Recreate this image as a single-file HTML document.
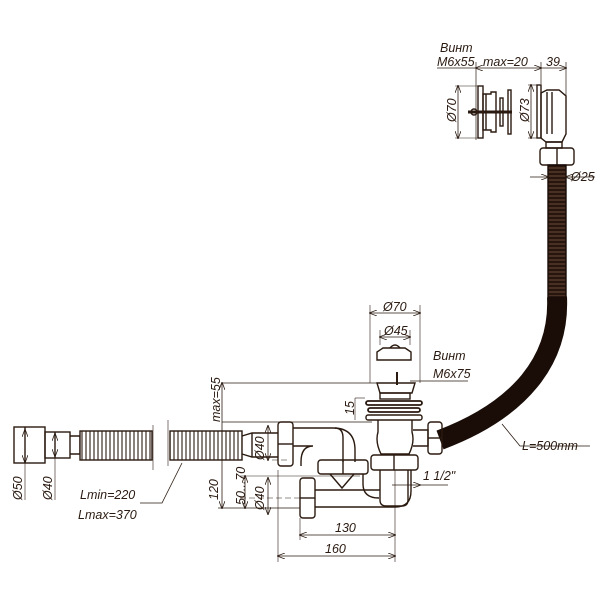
<!DOCTYPE html>
<html><head><meta charset="utf-8"><style>
html,body{margin:0;padding:0;background:#fff;}
svg{display:block;}
text{font-family:"Liberation Sans",sans-serif;font-style:italic;fill:#2a1a10;font-size:12.5px;}
</style></head><body>
<svg width="600" height="600" viewBox="0 0 600 600" xmlns="http://www.w3.org/2000/svg">
<defs>
<marker id="a" markerWidth="8" markerHeight="6" refX="7" refY="3" orient="auto-start-reverse" markerUnits="userSpaceOnUse"><path d="M0,0 L8,3 L0,6" fill="none" stroke="#2a1a10" stroke-width="0.8"/></marker>
<pattern id="cv" width="4" height="10" patternUnits="userSpaceOnUse"><rect width="4" height="10" fill="#fff"/><line x1="2" y1="0" x2="2" y2="10" stroke="#2a1a10" stroke-width="1.1"/></pattern>
<pattern id="ch" width="10" height="4" patternUnits="userSpaceOnUse"><rect width="10" height="4" fill="#4a3022"/><line x1="0" y1="2" x2="10" y2="2" stroke="#1a0d08" stroke-width="1.5"/></pattern>
</defs>
<g stroke="#2a1a10" fill="none" stroke-width="1.4">
<line x1="437" y1="68" x2="476" y2="68" stroke-width="0.8"/>
<line x1="476" y1="68" x2="541" y2="68" stroke-width="0.8" marker-start="url(#a)" marker-end="url(#a)"/>
<line x1="541" y1="68" x2="566" y2="68" stroke-width="0.8" marker-end="url(#a)"/>
<line x1="476" y1="62" x2="476" y2="140" stroke-width="0.7"/>
<line x1="541" y1="62" x2="541" y2="84" stroke-width="0.7"/>
<line x1="566" y1="62" x2="566" y2="96" stroke-width="0.7"/>
<line x1="458" y1="86" x2="458" y2="138" stroke-width="0.8" marker-start="url(#a)" marker-end="url(#a)"/>
<line x1="455" y1="86" x2="480" y2="86" stroke-width="0.6"/>
<line x1="455" y1="138" x2="480" y2="138" stroke-width="0.6"/>
<rect x="478" y="86" width="5" height="52"/>
<path d="M483,94 h8 v-2 h5 v40 h-5 v-2 h-8 z"/>
<line x1="486" y1="94" x2="486" y2="130"/>
<line x1="468" y1="112" x2="512" y2="112" stroke-width="3"/>
<circle cx="474" cy="112" r="3"/>
<rect x="500" y="98" width="3" height="28"/>
<rect x="508" y="90" width="3" height="44"/>
<line x1="531" y1="85" x2="531" y2="138" stroke-width="0.8" marker-start="url(#a)" marker-end="url(#a)"/>
<line x1="528" y1="85" x2="540" y2="85" stroke-width="0.6"/>
<line x1="528" y1="138" x2="540" y2="138" stroke-width="0.6"/>
<rect x="537" y="85" width="4" height="53"/>
<path d="M541,93 l6,-3 h12 l7,6 v38 l-4,8 h-16 l-5,-4 z"/>
<line x1="547" y1="92" x2="547" y2="134"/>
<line x1="552" y1="92" x2="552" y2="134"/>
<path d="M546,142 h16 v6 h-16 z"/>
<rect x="540" y="148" width="34" height="17" rx="3"/>
<line x1="557" y1="148" x2="557" y2="165"/>
<rect x="548" y="165" width="18" height="132" fill="url(#ch)" stroke="#1a0d08"/>
<line x1="530" y1="177" x2="548" y2="177" stroke-width="0.8" marker-end="url(#a)"/>
<line x1="566" y1="177" x2="595" y2="177" stroke-width="0.8" marker-start="url(#a)"/>
<path d="M557,297 C560,360 520,410 440,440" stroke="#1a0d08" stroke-width="20"/>
<path d="M502,424 L520,446 H590" stroke-width="0.8"/>
<line x1="370" y1="305" x2="370" y2="383" stroke-width="0.6"/>
<line x1="420" y1="305" x2="420" y2="383" stroke-width="0.6"/>
<line x1="370" y1="313" x2="420" y2="313" stroke-width="0.8" marker-start="url(#a)" marker-end="url(#a)"/>
<line x1="380" y1="337" x2="410" y2="337" stroke-width="0.8" marker-start="url(#a)" marker-end="url(#a)"/>
<line x1="380" y1="330" x2="380" y2="345" stroke-width="0.6"/>
<line x1="410" y1="330" x2="410" y2="345" stroke-width="0.6"/>
<path d="M377,360 v-8 l6,-4 h22 l6,4 v8 z"/>
<path d="M390,348 q5,-6 10,0"/>
<line x1="397" y1="372" x2="397" y2="385" stroke-width="2"/>
<line x1="410" y1="381" x2="468" y2="381" stroke-width="0.7"/>
<line x1="222" y1="383" x2="380" y2="383" stroke-width="0.7"/>
<line x1="222" y1="422" x2="372" y2="422" stroke-width="0.7"/>
<line x1="222" y1="383" x2="222" y2="508" stroke-width="0.8" marker-start="url(#a)" marker-end="url(#a)"/>
<path d="M377,383 h38 l-3,10 h-32 z"/>
<rect x="380" y="393" width="30" height="6"/>
<line x1="355" y1="398" x2="355" y2="420" stroke-width="0.6"/>
<line x1="355" y1="398" x2="365" y2="398" stroke-width="0.6"/>
<rect x="366" y="401" width="56" height="4" rx="2" stroke-width="1.8"/>
<rect x="368" y="408" width="52" height="4" rx="2" stroke-width="1.8"/>
<rect x="366" y="415" width="56" height="5" rx="2"/>
<path d="M378,420 v12 q-3,10 3,22 h28 q6,-12 3,-22 v-12"/>
<rect x="371" y="455" width="47" height="15" rx="3"/>
<line x1="394" y1="455" x2="394" y2="470"/>
<path d="M380,470 v30 q0,6 6,6 h16 q6,0 6,-6 v-30"/>
<path d="M413,430 h15 v16 h-15"/>
<rect x="428" y="422" width="14" height="32" rx="3"/>
<line x1="428" y1="438" x2="442" y2="438"/>
<line x1="420" y1="485" x2="448" y2="485" stroke-width="0.7"/>
<line x1="392" y1="485" x2="420" y2="485" stroke-width="0.7" marker-end="url(#a)"/>
<rect x="278" y="422" width="15" height="44" rx="3"/>
<line x1="278" y1="444" x2="293" y2="444"/>
<path d="M293,428 h40 q22,0 22,22 v12"/>
<path d="M293,446 h20 q-12,0 -12,16 v4"/>
<path d="M335,428 q8,0 8,10 v24"/>
<rect x="318" y="460" width="50" height="14" rx="3"/>
<line x1="343" y1="460" x2="343" y2="474"/>
<path d="M330,474 l12,14 l12,-14"/>
<path d="M363,474 v10 q0,14 16,14"/>
<path d="M315,490 h65 M315,507 h80 q16,0 16,-16 v-21"/>
<rect x="300" y="478" width="15" height="40" rx="3"/>
<line x1="300" y1="498" x2="315" y2="498"/>
<line x1="272" y1="460" x2="290" y2="460" stroke-width="0.5" stroke-dasharray="6 3"/>
<line x1="240" y1="498" x2="300" y2="498" stroke-width="0.6" stroke-dasharray="6 3"/>
<line x1="240" y1="476" x2="360" y2="476" stroke-width="0.6"/>
<line x1="245" y1="476" x2="245" y2="508" stroke-width="0.8" marker-start="url(#a)" marker-end="url(#a)"/>
<line x1="218" y1="508" x2="300" y2="508" stroke-width="0.7"/>
<line x1="268" y1="426" x2="268" y2="460" stroke-width="0.8" marker-start="url(#a)" marker-end="url(#a)"/>
<line x1="268" y1="478" x2="268" y2="514" stroke-width="0.8" marker-start="url(#a)" marker-end="url(#a)"/>
<line x1="278" y1="470" x2="278" y2="562" stroke-width="0.6"/>
<line x1="300" y1="518" x2="300" y2="540" stroke-width="0.6"/>
<line x1="395" y1="470" x2="395" y2="562" stroke-width="0.6"/>
<line x1="300" y1="535" x2="395" y2="535" stroke-width="0.8" marker-start="url(#a)" marker-end="url(#a)"/>
<line x1="278" y1="556" x2="395" y2="556" stroke-width="0.8" marker-start="url(#a)" marker-end="url(#a)"/>
<rect x="14" y="427" width="31" height="36"/>
<line x1="25" y1="427" x2="25" y2="463"/>
<rect x="45" y="432" width="25" height="26"/>
<line x1="55" y1="432" x2="55" y2="458"/>
<path d="M70,436 h10 v18 h-10"/>
<rect x="80" y="431" width="72" height="29" fill="url(#cv)"/>
<rect x="170" y="431" width="72" height="29" fill="url(#cv)"/>
<path d="M242,436 l10,-3 h26 M242,454 l10,3 h26"/>
<line x1="252" y1="433" x2="252" y2="457"/>
<line x1="153" y1="425" x2="153" y2="470" stroke-width="0.6"/>
<line x1="168" y1="420" x2="168" y2="466" stroke-width="0.6"/>
<line x1="25" y1="430" x2="25" y2="462" stroke-width="0.6" marker-start="url(#a)" marker-end="url(#a)"/>
<line x1="55" y1="434" x2="55" y2="456" stroke-width="0.6" marker-start="url(#a)" marker-end="url(#a)"/>
<line x1="25" y1="463" x2="25" y2="500" stroke-width="0.6"/>
<line x1="55" y1="458" x2="55" y2="500" stroke-width="0.6"/>
<path d="M140,503 h22 l20,-40" stroke-width="0.8"/>
</g>
<text x="440" y="52">Винт</text>
<text x="437" y="66">M6x55</text>
<text x="483" y="66">max=20</text>
<text x="546" y="66">39</text>
<text transform="translate(456,122) rotate(-90)">Ø70</text>
<text transform="translate(529,122) rotate(-90)">Ø73</text>
<text x="571" y="181">Ø25</text>
<text x="522" y="450">L=500mm</text>
<text x="383" y="311">Ø70</text>
<text x="384" y="335">Ø45</text>
<text x="433" y="360">Винт</text>
<text x="433" y="378">M6x75</text>
<text transform="translate(220,422) rotate(-90)">max=55</text>
<text transform="translate(354,415) rotate(-90)">15</text>
<text x="423" y="480">1 1/2"</text>
<text transform="translate(264,460) rotate(-90)">Ø40</text>
<text transform="translate(264,510) rotate(-90)">Ø40</text>
<text transform="translate(218,500) rotate(-90)">120</text>
<text transform="translate(245,505) rotate(-90)">50...70</text>
<text x="335" y="532">130</text>
<text x="325" y="553">160</text>
<text transform="translate(22,500) rotate(-90)">Ø50</text>
<text transform="translate(52,500) rotate(-90)">Ø40</text>
<text x="80" y="499">Lmin=220</text>
<text x="78" y="519">Lmax=370</text>
</svg>
</body></html>
